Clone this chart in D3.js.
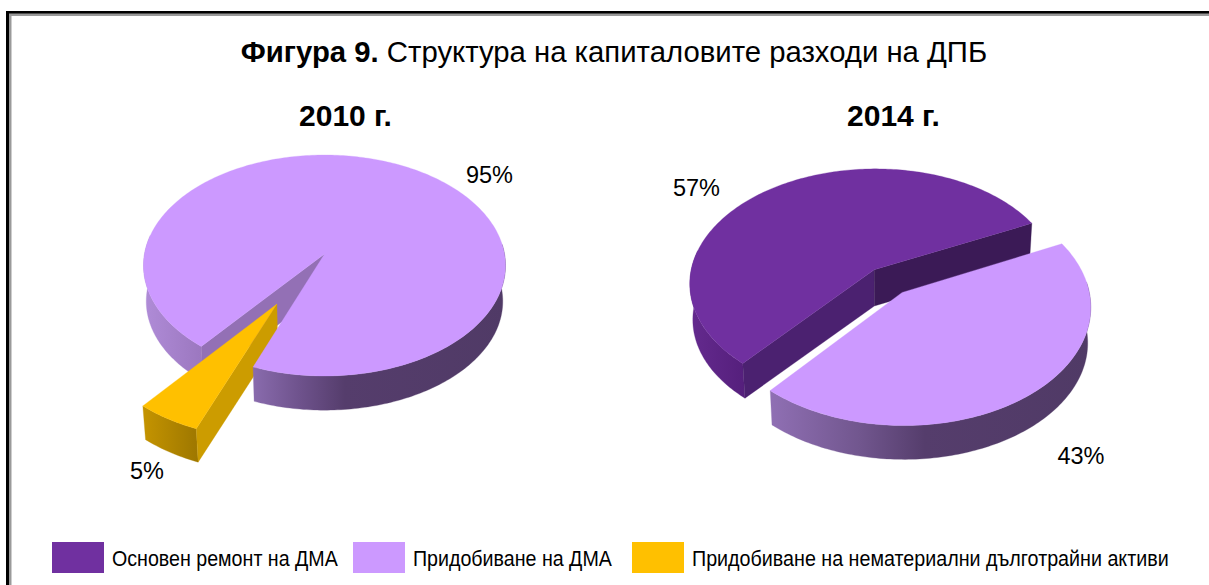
<!DOCTYPE html>
<html>
<head>
<meta charset="utf-8">
<script src="https://cdn.jsdelivr.net/npm/d3@7"></script>
<style>
html,body{margin:0;padding:0;background:#fff;overflow:hidden}
svg{display:block}
text{font-family:"Liberation Sans",Arial,sans-serif;fill:#000}
</style>
</head>
<body>
<svg id="c" width="1209" height="585"></svg>
<script>
const categories = ["Основен ремонт на ДМА", "Придобиване на ДМА", "Придобиване на нематериални дълготрайни активи"];
const share2010 = [0, 95, 5];
const share2014 = [56.6, 43.4, 0];
const pieTitles = ["2010 г.", "2014 г."];
const titleBold = "Фигура 9.";
const titleRest = " Структура на капиталовите разходи на ДПБ";
const topColors = ["#7030A0", "#CC99FF", "#FFC000"];

const W = 1209, H = 585;
const rad = d => d * Math.PI / 180;
const svg = d3.select("#c");
const defs = svg.append("defs");
const colorTop = d3.scaleOrdinal().domain(categories).range(topColors);

// frame
svg.append("rect").attr("x",6).attr("y",11).attr("width",W).attr("height",H).attr("fill","#000");
svg.append("rect").attr("x",9).attr("y",13.5).attr("width",W).attr("height",H).attr("fill","#9a9a9a");
svg.append("rect").attr("x",11.5).attr("y",16).attr("width",W).attr("height",H).attr("fill","#fff");

// title
const t = svg.append("text").attr("x",614).attr("y",62).attr("text-anchor","middle").attr("font-size",29.3);
t.append("tspan").attr("font-weight","bold").text(titleBold);
t.append("tspan").text(titleRest);

// projection of the tilted disc
const shrink = 0.985;
function project(p, u, v, low) {
  const a = 1 / (1 - p.k * v), s = low ? shrink : 1;
  return [p.cx + p.R * u * a * s, p.cy + (low ? p.depth : 0) + p.S * v * a * s];
}
const line = d3.line();
function pointAt(p, d, deg, r, low) {
  const a = rad(deg);
  return project(p, d.ox + r * Math.sin(a), d.oy - r * Math.cos(a), low);
}
function arcPts(p, d, a0, a1, low) {
  const n = Math.max(2, Math.ceil(Math.abs(a1 - a0)));
  return d3.range(n + 1).map(i => pointAt(p, d, a0 + (a1 - a0) * i / n, 1, low));
}
function gradient(id, x1, x2, stops) {
  const g = defs.append("linearGradient").attr("id", id).attr("gradientUnits","userSpaceOnUse")
    .attr("x1",x1).attr("x2",x2).attr("y1",0).attr("y2",0);
  stops.forEach(s => g.append("stop").attr("offset",(s[0]-x1)/(x2-x1)).attr("stop-color",s[1]));
  return `url(#${id})`;
}
const sideFills = [
  {
    1: gradient("s1", 143, 506, [[143,"#b08cd8"],[200,"#9c78c0"],[252,"#8a6cae"],[300,"#6e528c"],[345,"#553d6c"],[506,"#503a66"]]),
    2: gradient("s2", 141, 200, [[141,"#c69500"],[200,"#9c7600"]])
  },
  {
    0: gradient("s3", 690, 745, [[690,"#642a8e"],[745,"#551f7c"]]),
    1: gradient("s4", 772, 1090, [[772,"#8f6fb3"],[860,"#71568e"],[925,"#553d6c"],[1090,"#503a66"]])
  }
];
const wallFills = [
  {1:{start:"#9370b5"}, 2:{start:"#cc9c00"}},
  {0:{start:"#4b2170", end:"#3b1a56"}, 1:{}}
];

const pies = [
  {values:share2010, start:219, k:0.104, cx:324.5, cy:254, R:180, S:109.3, depth:36, explode:[0,0,0.505], tx:345.5, lx:[489.5,147], ly:[183,479], labelIdx:[1,2]},
  {values:share2014, start:220.5, k:0.115, cx:888, cy:281, R:185, S:115, depth:36, explode:[0.124,0.124,0], tx:893.5, lx:[696.5,1081], ly:[196,464], labelIdx:[0,1]}
];

pies.forEach((p, pi) => {
  const g = svg.append("g");
  const arcs = d3.pie().sort(null)
    .startAngle(rad(p.start)).endAngle(rad(p.start + 360))(p.values);
  const slices = arcs.map((a,i) => {
    const a0 = a.startAngle*180/Math.PI, a1 = a.endAngle*180/Math.PI, mid = rad((a0+a1)/2);
    return {i, a0, a1, value:a.value, ox:p.explode[i]*Math.sin(mid), oy:-p.explode[i]*Math.cos(mid)};
  });
  const poly = (pts, fill) => g.append("path").attr("d", line(pts)+"Z").attr("fill", fill).attr("stroke",fill).attr("stroke-width",0.3);

  function drawWalls(d) {
    const w = wallFills[pi][d.i] || {};
    [["start",d.a0,Math.sin(rad(d.a0))<0],["end",d.a1,Math.sin(rad(d.a1))>0]].forEach(([n,ang,vis])=>{
      if(!vis || !w[n]) return;
      poly([pointAt(p,d,ang,0,false),pointAt(p,d,ang,1,false),pointAt(p,d,ang,1,true),pointAt(p,d,ang,0,true)], w[n]);
    });
  }
  function drawSide(d, lo, hi) {
    [0,360].forEach(sh => {
      const a0 = Math.max(d.a0, lo+sh), a1 = Math.min(d.a1, hi+sh);
      if (a1 > a0) poly(arcPts(p,d,a0,a1,false).concat(arcPts(p,d,a1,a0,true)), sideFills[pi][d.i]);
    });
  }
  function drawTop(d) {
    const pts = [pointAt(p,d,0,0,false)].concat(arcPts(p,d,d.a0,d.a1,false));
    poly(pts, colorTop(categories[d.i]));
  }
  if (pi === 0) {
    const big = slices[1], small = slices[2];
    drawSide(big, 205, 280); drawWalls(big);
    drawSide(small, 85, 275); drawWalls(small); drawTop(small);
    drawSide(big, 85, 204);
    drawTop(big);
  } else {
    const a = slices[0], b = slices[1];
    drawSide(a, 85, 280); drawWalls(a); drawTop(a);
    drawSide(b, 85, 275); drawTop(b);
  }

  svg.append("text").attr("x",p.tx).attr("y",126).attr("text-anchor","middle")
    .attr("font-size",30).attr("font-weight","bold").text(pieTitles[pi]);
  p.labelIdx.forEach((idx,j)=>{
    svg.append("text").attr("x",p.lx[j]).attr("y",p.ly[j]).attr("text-anchor","middle")
      .attr("font-size",23.5).text(Math.round(p.values[idx])+"%");
  });
});

// legend
const legendSw = [52, 353, 632], legendTx = [112, 413, 692], legendW = [226, 199, 477];
categories.forEach((c,i)=>{
  svg.append("rect").attr("x",legendSw[i]).attr("y",542).attr("width",52).attr("height",31).attr("fill",colorTop(c));
  const tx = svg.append("text").attr("font-size",21.5).text(c);
  const natural = tx.node().getComputedTextLength();
  tx.attr("transform",`translate(${legendTx[i]},565.5) scale(${legendW[i]/natural},1)`);
});
</script>
</body>
</html>
